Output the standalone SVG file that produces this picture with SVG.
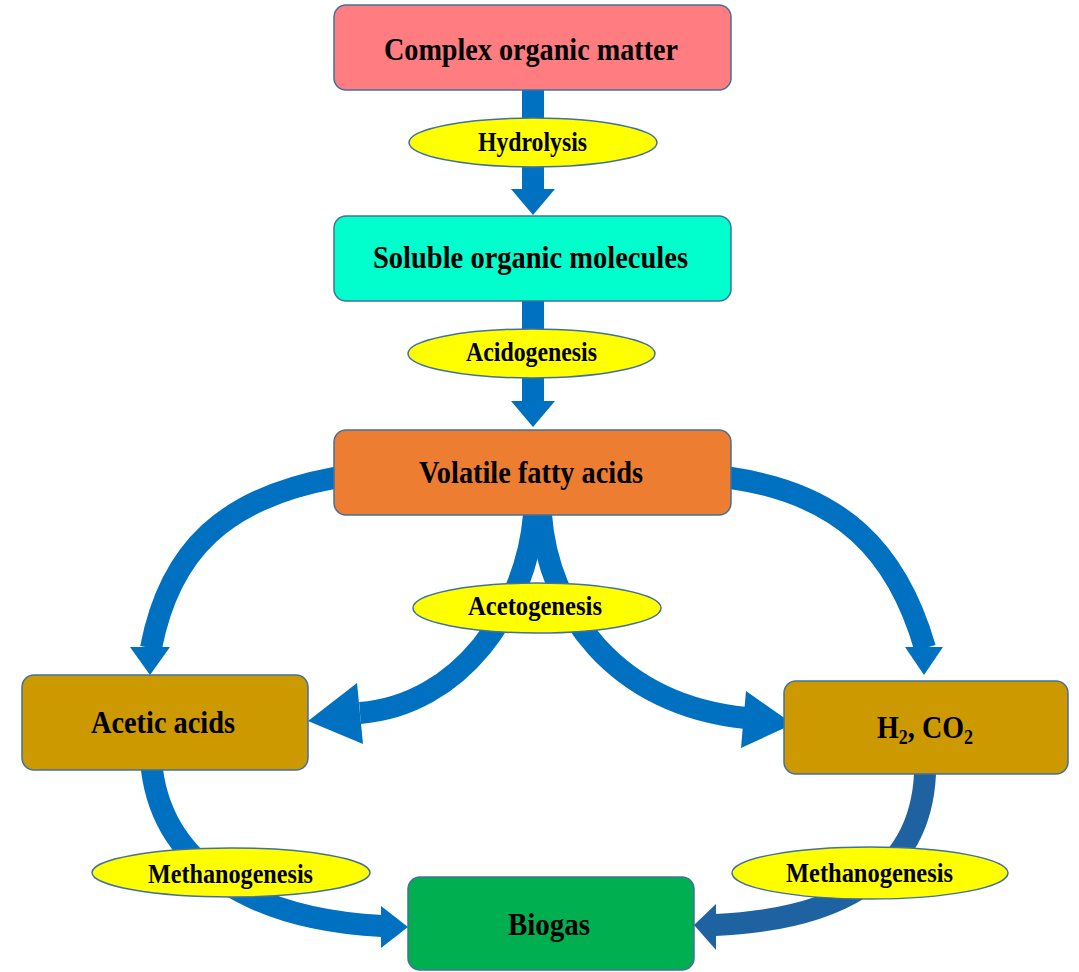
<svg xmlns="http://www.w3.org/2000/svg" width="1079" height="972" viewBox="0 0 1079 972">
<style>
.box{stroke:#41719C;stroke-width:1.5}
.lbl{fill:#FFFF00;stroke:#41719C;stroke-width:1.5}
.bt{font-family:"Liberation Serif","Times New Roman",serif;font-weight:bold;font-size:31px;fill:#000;text-anchor:middle}
.lt{font-family:"Liberation Serif","Times New Roman",serif;font-weight:bold;font-size:27px;fill:#000;text-anchor:middle}
.shaft{fill:none;stroke:#0070C0;stroke-width:22}
.head{fill:#0070C0}
.dark{stroke:#1F62A2}
.darkh{fill:#1F62A2}
</style>
<rect width="1079" height="972" fill="#FFFFFF"/>
<g id="connectors">
<path class="shaft" d="M533 80 V190"/><polygon class="head" points="511,189 555,189 533,215"/>
<path class="shaft" d="M533 290 V402"/><polygon class="head" points="511,401 555,401 533,427"/>
<path class="shaft" d="M350 476 L334 478 C226 498 170 549 151 648"/><polygon class="head" points="130,647 170,647 150,675"/>
<path class="shaft" d="M715 476 L731 478 C841 494 897 551 925 648"/><polygon class="head" points="905,647 943,647 924,675"/>
<path class="shaft" d="M534 500 L534 515 C526 610 460 705 360 713"/><polygon class="head" points="357,683 363,744 308,721"/>
<path class="shaft" d="M540 500 L541 515 C548 610 615 705 746 718"/><polygon class="head" points="746,691 741,748 793,724"/>
<path class="shaft" d="M152 760 L152 770 C165 870 260 920 382 926"/><polygon class="head" points="381,906 381,948 408,927"/>
<path class="shaft dark" d="M925 764 L925 774 C920 880 830 920 715 925"/><polygon class="darkh" points="716,904 716,950 694,925"/>
</g>
<g id="n-complex"><rect class="box" x="334" y="5" width="397" height="85" rx="12" fill="#FF7C80"/><text class="bt" x="531" y="60" textLength="294" lengthAdjust="spacingAndGlyphs">Complex organic matter</text></g>
<g id="n-soluble"><rect class="box" x="334" y="216" width="397" height="85" rx="12" fill="#00FFCC"/><text class="bt" x="530.5" y="268" textLength="315" lengthAdjust="spacingAndGlyphs">Soluble organic molecules</text></g>
<g id="n-vfa"><rect class="box" x="334" y="430" width="397" height="85" rx="12" fill="#ED7D31"/><text class="bt" x="531" y="483" textLength="224" lengthAdjust="spacingAndGlyphs">Volatile fatty acids</text></g>
<g id="n-acetic"><rect class="box" x="22" y="675" width="286" height="95" rx="12" fill="#CC9900"/><text class="bt" x="163" y="733" textLength="144" lengthAdjust="spacingAndGlyphs">Acetic acids</text></g>
<g id="n-h2co2"><rect class="box" x="784" y="681" width="284" height="93" rx="12" fill="#CC9900"/><text class="bt" x="925" y="738" textLength="96" lengthAdjust="spacingAndGlyphs">H<tspan font-size="20" dy="6">2</tspan><tspan dy="-6">, CO</tspan><tspan font-size="20" dy="6">2</tspan></text></g>
<g id="n-biogas"><rect class="box" x="408" y="877" width="286" height="93" rx="12" fill="#00B050"/><text class="bt" x="549" y="935" textLength="82" lengthAdjust="spacingAndGlyphs">Biogas</text></g>
<g id="l-hydrolysis"><ellipse class="lbl" cx="533" cy="142.5" rx="124" ry="24.5"/><text class="lt" x="532.5" y="151" textLength="109" lengthAdjust="spacingAndGlyphs">Hydrolysis</text></g>
<g id="l-acidogenesis"><ellipse class="lbl" cx="531.5" cy="353.5" rx="123.5" ry="24.5"/><text class="lt" x="531.5" y="361" textLength="131" lengthAdjust="spacingAndGlyphs">Acidogenesis</text></g>
<g id="l-acetogenesis"><ellipse class="lbl" cx="537" cy="608" rx="124" ry="25"/><text class="lt" x="535" y="615" textLength="134" lengthAdjust="spacingAndGlyphs">Acetogenesis</text></g>
<g id="l-meth-left"><ellipse class="lbl" cx="231" cy="872.5" rx="139" ry="24.5"/><text class="lt" x="230.5" y="883" textLength="165" lengthAdjust="spacingAndGlyphs">Methanogenesis</text></g>
<g id="l-meth-right"><ellipse class="lbl" cx="870" cy="873" rx="138" ry="26"/><text class="lt" x="869.5" y="882" textLength="167" lengthAdjust="spacingAndGlyphs">Methanogenesis</text></g>
</svg>
